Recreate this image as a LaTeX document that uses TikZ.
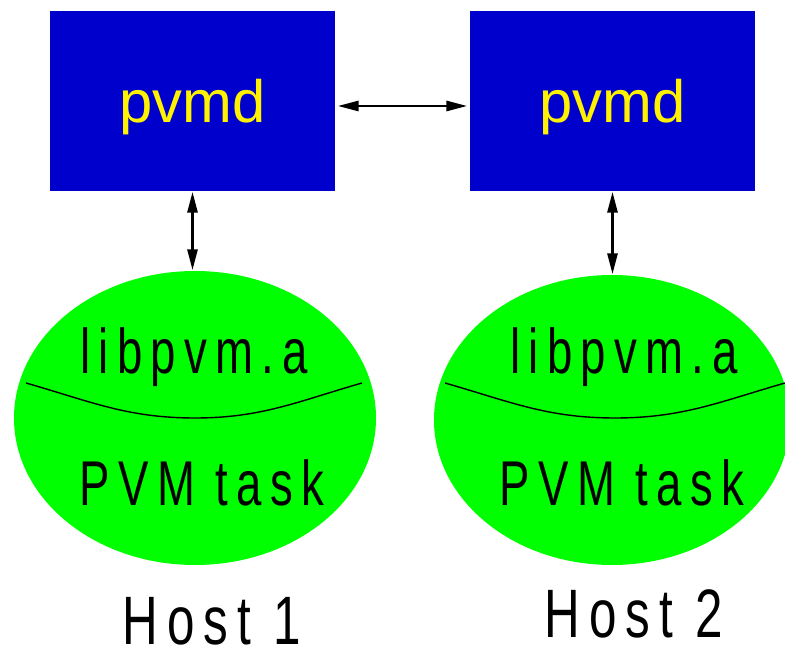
\documentclass[tikz,border=0pt]{standalone}
\usepackage{fontspec}
\setmainfont{Liberation Sans}
\newfontfamily\condfont[FakeStretch=0.72,LetterSpace=13]{Liberation Sans}
\usetikzlibrary{arrows.meta}
\definecolor{daemonblue}{HTML}{0000CC}
\definecolor{taskgreen}{HTML}{00FF00}
\tikzset{
	daemon/.style={rectangle, fill=daemonblue, minimum width=2.85cm, minimum height=1.8cm, inner sep=0pt, text depth=0pt, text=yellow, font=\fontsize{17}{20}\selectfont},
	task/.style={ellipse, fill=taskgreen, inner sep=0pt},
	label/.style={font=\condfont\fontsize{18}{21}\selectfont, inner sep=0pt},
	hostlabel/.style={font=\condfont\fontsize{19.5}{22}\selectfont, inner sep=0pt},
	link/.style={thick, {Triangle[length=2.1mm,width=1mm]}-{Triangle[length=2.1mm,width=1mm]}}
}
\usetikzlibrary{shapes.geometric}
\begin{document}
\begin{tikzpicture}
		\useasboundingbox (0,0) rectangle (7.85,-6.53);
		\clip (0,0) rectangle (7.85,-6.53);
		% pvm daemons
		\node[daemon] (pvmd1) at (1.925,-1.01) {pvmd};
		\node[daemon] (pvmd2) at (6.125,-1.01) {pvmd};
		% tasks
		\node[task, minimum width=3.62cm, minimum height=2.94cm] (task1) at (1.95,-4.18) {};
		\node[task, minimum width=3.56cm, minimum height=2.90cm] (task2) at (6.12,-4.20) {};
		\draw[thin] (0.26,-3.83) to[out=-16,in=180] (1.95,-4.18) to[out=0,in=196] (3.62,-3.83);
		\draw[thin] (4.45,-3.83) to[out=-16,in=180] (6.15,-4.18) to[out=0,in=196] (7.85,-3.83);
		\node[label] (lib1) at (1.94,-3.57) {libpvm.a};
		\node[label] (lib2) at (6.24,-3.57) {libpvm.a};
		\node[label] (pt1) at (2.02,-4.83) {PVM task};
		\node[label] (pt2) at (6.22,-4.83) {PVM task};
		\node[hostlabel] (host1) at (2.12,-6.21) {Host 1};
		\node[hostlabel] (host2) at (6.34,-6.14) {Host 2};
		% connections
		\draw[link, shorten <=0.02cm, shorten >=0.02cm] ([yshift=-0.05cm]pvmd1.east) -- ([yshift=-0.05cm]pvmd2.west);
		\draw[link] (pvmd1.south) -- (pvmd1.south |- task1.north);
		\draw[link] (pvmd2.south) -- (pvmd2.south |- task2.north);
		\end{tikzpicture}
\end{document}
